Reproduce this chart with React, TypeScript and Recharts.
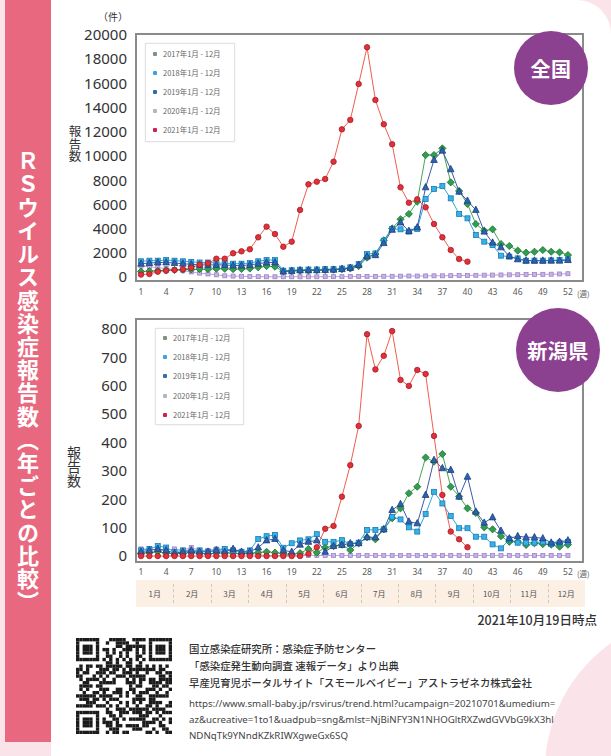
import React from 'react';
import { LineChart, Line, XAxis, YAxis, ReferenceArea } from 'recharts';

const WEEKS = [1, 2, 3, 4, 5, 6, 7, 8, 9, 10, 11, 12, 13, 14, 15, 16, 17, 18, 19, 20, 21, 22, 23, 24, 25, 26, 27, 28, 29, 30, 31, 32, 33, 34, 35, 36, 37, 38, 39, 40, 41, 42, 43, 44, 45, 46, 47, 48, 49, 50, 51, 52];
const WEEK_TICKS = [1, 4, 7, 10, 13, 16, 19, 22, 25, 28, 31, 34, 37, 40, 43, 46, 49, 52];
const NATIONAL_TICKS = [0, 2000, 4000, 6000, 8000, 10000, 12000, 14000, 16000, 18000, 20000];
const NIIGATA_TICKS = [0, 100, 200, 300, 400, 500, 600, 700, 800];
const YEAR_LABELS = ['2017年1月 - 12月', '2018年1月 - 12月', '2019年1月 - 12月', '2020年1月 - 12月', '2021年1月 - 12月'];
const MONTHS = ['1月', '2月', '3月', '4月', '5月', '6月', '7月', '8月', '9月', '10月', '11月', '12月'];

// 全国
const NAT_2017 = [450, 480, 520, 560, 580, 600, 620, 650, 650, 680, 680, 650, 660, 700, 800, 900, 850, 480, 500, 520, 540, 560, 580, 600, 650, 700, 900, 1600, 1900, 3030, 4020, 4770, 5210, 6230, 10080, 10080, 10630, 7820, 7110, 6030, 4380, 3830, 3940, 2730, 2560, 2180, 2010, 2090, 2230, 2090, 2040, 1820];
const NAT_2018 = [1300, 1350, 1350, 1400, 1350, 1300, 1250, 1200, 1200, 1150, 1150, 1100, 1100, 1150, 1300, 1400, 1400, 520, 560, 600, 620, 620, 650, 650, 700, 800, 1070, 1900, 1950, 3000, 3970, 3940, 3750, 3970, 6450, 7270, 7520, 6500, 5210, 4850, 3470, 2920, 2640, 1760, 1680, 1540, 1350, 1350, 1350, 1380, 1400, 1450];
const NAT_2019 = [1100, 1150, 1200, 1200, 1150, 1100, 1050, 1000, 1000, 1000, 1000, 950, 950, 1000, 1100, 1200, 1200, 450, 500, 550, 550, 560, 580, 600, 650, 750, 1000, 1700, 1800, 2800, 3900, 4500, 3800, 4100, 7410, 9670, 10440, 8900, 7050, 6300, 5540, 3750, 2840, 2450, 1740, 1460, 1350, 1350, 1350, 1350, 1350, 1400];
const NAT_2020 = [900, 850, 780, 700, 620, 520, 420, 320, 250, 180, 100, 80, 60, 40, 30, 20, 20, 20, 20, 20, 20, 20, 30, 30, 30, 40, 40, 50, 50, 60, 60, 70, 80, 80, 90, 100, 100, 110, 120, 130, 140, 150, 160, 170, 180, 190, 200, 210, 220, 230, 250, 270];
const NAT_2021 = [200, 250, 440, 520, 580, 640, 770, 1020, 1130, 1510, 1510, 1960, 2120, 2290, 3280, 4160, 3550, 2500, 2920, 5540, 7660, 7880, 8100, 9530, 12200, 12980, 15950, 18980, 14630, 12620, 10970, 7410, 6140, 6420, 5760, 4380, 3280, 2230, 1490, 1270];

// 新潟県
const NII_2017 = [10, 12, 15, 10, 8, 10, 12, 10, 8, 10, 12, 10, 8, 10, 12, 15, 12, 8, 6, 10, 25, 12, 30, 35, 40, 21, 45, 66, 59, 94, 133, 168, 221, 244, 347, 332, 359, 244, 210, 168, 152, 101, 94, 70, 50, 50, 39, 45, 42, 40, 33, 40];
const NII_2018 = [20, 25, 35, 30, 15, 20, 15, 20, 15, 20, 25, 20, 15, 20, 60, 70, 74, 29, 45, 55, 59, 77, 50, 50, 56, 42, 47, 92, 92, 94, 138, 129, 101, 86, 148, 226, 185, 141, 98, 98, 68, 68, 41, 27, 59, 47, 47, 47, 50, 42, 47, 50];
const NII_2019 = [15, 20, 25, 20, 10, 15, 20, 15, 15, 20, 15, 25, 15, 15, 30, 55, 60, 20, 15, 40, 50, 55, 15, 35, 39, 45, 45, 66, 66, 94, 162, 183, 121, 115, 215, 338, 309, 303, 209, 279, 156, 117, 136, 89, 62, 70, 66, 66, 62, 47, 50, 55];
const NII_2020 = [25, 25, 20, 20, 25, 20, 30, 20, 20, 25, 25, 20, 15, 10, 5, 2, 2, 2, 2, 2, 2, 2, 2, 2, 2, 2, 2, 2, 2, 2, 2, 2, 2, 2, 2, 2, 2, 2, 2, 2, 2, 2, 2, 2, 2, 2, 2, 2, 2, 2, 2, 2];
const NII_2021 = [0, 0, 0, 0, 0, 0, 0, 0, 0, 0, 0, 0, 0, 0, 0, 0, 0, 0, 0, 0, 8, 31, 96, 106, 209, 320, 458, 781, 657, 705, 792, 620, 599, 655, 641, 423, 215, 86, 59, 31];

type SeriesStyle = { key: string; line: string; fill: string; stroke: string; shape: string; size: number; legend: string };

const STYLES: SeriesStyle[] = [
  { key: 'y2017', line: '#45a656', fill: '#2f9f4e', stroke: '#1d6e36', shape: 'diamond', size: 5.5, legend: '#7d9384' },
  { key: 'y2018', line: '#2ea7de', fill: '#37b1e8', stroke: '#1a7cb2', shape: 'square', size: 5, legend: '#3aa3e0' },
  { key: 'y2019', line: '#3d5aa8', fill: '#2d62b0', stroke: '#1b3d7e', shape: 'triangle', size: 5.5, legend: '#2f6fa6' },
  { key: 'y2020', line: '#b9a2dc', fill: '#c8b3e6', stroke: '#9c82c8', shape: 'square', size: 4, legend: '#b4b4c2' },
  { key: 'y2021', line: '#ef5e4e', fill: '#e2303a', stroke: '#a51b27', shape: 'circle', size: 5.5, legend: '#d21f4e' },
];
const DRAW_ORDER = [STYLES[3], STYLES[0], STYLES[1], STYLES[2], STYLES[4]];

function buildRows(a17: number[], a18: number[], a19: number[], a20: number[], a21: number[]) {
  return WEEKS.map((w, i) => ({
    week: w,
    y2017: a17[i],
    y2018: a18[i],
    y2019: a19[i],
    y2020: a20[i],
    y2021: i < a21.length ? a21[i] : null,
  }));
}

const NATIONAL_ROWS = buildRows(NAT_2017, NAT_2018, NAT_2019, NAT_2020, NAT_2021);
const NIIGATA_ROWS = buildRows(NII_2017, NII_2018, NII_2019, NII_2020, NII_2021);

function renderMarker(p: any, s: SeriesStyle) {
  const key = `${s.key}-${p.index}`;
  const { cx, cy } = p;
  if (cx == null || cy == null || Number.isNaN(cy) || p.value == null) return <g key={key} />;
  const z = s.size;
  const common = { fill: s.fill, stroke: s.stroke, strokeWidth: 0.8 };
  if (s.shape === 'square') return <rect key={key} x={cx - z / 2} y={cy - z / 2} width={z} height={z} {...common} />;
  if (s.shape === 'diamond') {
    const h = z * 0.65;
    return <polygon key={key} points={`${cx},${cy - h} ${cx + h},${cy} ${cx},${cy + h} ${cx - h},${cy}`} {...common} />;
  }
  if (s.shape === 'triangle') {
    return <polygon key={key} points={`${cx},${cy - z * 0.7} ${cx + z * 0.6},${cy + z * 0.45} ${cx - z * 0.6},${cy + z * 0.45}`} {...common} />;
  }
  return <circle key={key} cx={cx} cy={cy} r={z / 2} {...common} />;
}

const JP = '"Noto Sans CJK JP", "Noto Sans", sans-serif';
const NUM = '"Noto Sans", "DejaVu Sans", sans-serif';

function WeeklyChart(props: { rows: any[]; top: number; height: number; marginTop: number; marginBottom: number; domain: [number, number]; ticks: number[]; tickMargin: number }) {
  const { rows, top, height, marginTop, marginBottom, domain, ticks, tickMargin } = props;
  return (
    <div style={{ position: 'absolute', left: 0, top, width: 611, height }}>
      <LineChart width={611} height={height} data={rows} margin={{ top: marginTop, right: 28, bottom: marginBottom, left: 66 }}>
        <XAxis
          type="number"
          dataKey="week"
          domain={[0.4, 53.8]}
          ticks={WEEK_TICKS}
          interval={0}
          allowDataOverflow
          axisLine={false}
          tickLine={false}
          tickSize={0}
          tickMargin={tickMargin}
          height={25}
          tick={{ fontSize: 8.5, fill: '#5a5a5a', fontFamily: NUM }}
        />
        <YAxis
          type="number"
          domain={domain}
          ticks={ticks}
          interval={0}
          allowDataOverflow
          axisLine={false}
          tickLine={false}
          tickSize={0}
          tickMargin={9}
          width={70}
          tick={{ fontSize: 15, fill: '#333', fontFamily: NUM }}
        />
        <ReferenceArea x1={0.4} x2={53.8} y1={domain[0]} y2={domain[1]} fill="#ffffff" fillOpacity={0} stroke="#8a8a8a" strokeWidth={2} ifOverflow="visible" />
        {DRAW_ORDER.map((s) => (
          <Line
            key={s.key}
            type="linear"
            dataKey={s.key}
            stroke={s.line}
            strokeWidth={1}
            dot={(p: any) => renderMarker(p, s)}
            activeDot={false}
            connectNulls={false}
            isAnimationActive={false}
          />
        ))}
      </LineChart>
    </div>
  );
}

function LegendBox(props: { left: number; top: number; width: number; height: number; firstRow: number; step: number }) {
  const { left, top, width, height, firstRow, step } = props;
  return (
    <div style={{ position: 'absolute', left, top, width, height, border: '1px solid #e2e2e2', background: 'rgba(255,255,255,0.9)', boxShadow: '0 0 2px rgba(0,0,0,0.08)' }}>
      {YEAR_LABELS.map((label, i) => (
        <div key={label} style={{ position: 'absolute', left: 0, top: firstRow + i * step - 5, height: 10, width, display: 'flex', alignItems: 'center' }}>
          <div style={{ marginLeft: 7, width: 4, height: 4, borderRadius: 1, background: STYLES[i].legend }} />
          <div style={{ marginLeft: 6, fontSize: 7.5, color: '#666', fontFamily: JP, whiteSpace: 'nowrap', lineHeight: '10px' }}>{label}</div>
        </div>
      ))}
    </div>
  );
}

function Badge(props: { cx: number; cy: number; r: number; text: string }) {
  const { cx, cy, r, text } = props;
  return (
    <div style={{ position: 'absolute', left: cx - r, top: cy - r, width: r * 2, height: r * 2, borderRadius: '50%', background: '#8c4190', color: '#fff', display: 'flex', alignItems: 'center', justifyContent: 'center', fontFamily: JP, fontWeight: 700, fontSize: 20, letterSpacing: 0.5 }}>
      {text}
    </div>
  );
}

const QR_SOURCE = 'https://www.small-baby.jp/rsvirus/trend.html?ucampaign=20210701&umedium=az&ucreative=1to1&uadpub=sng&mlst=NjBiNFY3N1NHOGltRXZwdGVVbG9kX3hlNDNqTk9YNndKZkRIWXgweGx6SQ';

function QrCode(props: { left: number; top: number; size: number }) {
  const n = 29;
  const m = props.size / n;
  const cells: React.ReactNode[] = [];
  const inFinder = (r: number, c: number) => (r < 8 && c < 8) || (r < 8 && c >= n - 8) || (r >= n - 8 && c < 8);
  const finderOn = (r: number, c: number) => {
    const rr = r >= n - 8 ? r - (n - 7) : r;
    const cc = c >= n - 8 ? c - (n - 7) : c;
    if (rr < 0 || cc < 0 || rr > 6 || cc > 6) return false;
    if (rr === 0 || rr === 6 || cc === 0 || cc === 6) return true;
    return rr >= 2 && rr <= 4 && cc >= 2 && cc <= 4;
  };
  for (let r = 0; r < n; r++) {
    for (let c = 0; c < n; c++) {
      let on: boolean;
      if (inFinder(r, c)) on = finderOn(r, c);
      else if (r === 6) on = c % 2 === 0;
      else if (c === 6) on = r % 2 === 0;
      else {
        const code = QR_SOURCE.charCodeAt((r * n + c * 3) % QR_SOURCE.length);
        on = ((code >> ((r * 2 + c) % 6)) & 1) === 1;
      }
      if (on) cells.push(<rect key={`${r}-${c}`} x={c * m} y={r * m} width={m + 0.05} height={m + 0.05} fill="#1a1a1a" />);
    }
  }
  return (
    <svg style={{ position: 'absolute', left: props.left, top: props.top }} width={props.size} height={props.size}>
      {cells}
    </svg>
  );
}

export default function App() {
  const monthW = 449 / 12;
  return (
    <div style={{ position: 'absolute', left: 0, top: 0, width: 611, height: 756, overflow: 'hidden', background: '#fbe4e9', fontFamily: JP }}>
      {/* white card */}
      <div style={{ position: 'absolute', left: 51, top: 0, width: 560, height: 756, background: '#ffffff', borderTopRightRadius: 34 }} />
      <div style={{ position: 'absolute', left: 545, top: 615, width: 310, height: 310, borderRadius: '50%', background: '#fbe4e9' }} />
      {/* left title strip */}
      <div style={{ position: 'absolute', left: 5, top: 0, width: 46, height: 742, background: '#e8697f' }}>
        <div style={{ position: 'absolute', left: 12, top: 150, writingMode: 'vertical-rl', fontSize: 22, fontWeight: 700, color: '#ffffff', letterSpacing: 1.2, lineHeight: 1, fontFamily: JP }}>
          ＲＳウイルス感染症報告数（年ごとの比較）
        </div>
      </div>

      {/* 全国 chart */}
      <div style={{ position: 'absolute', left: 98, top: 12, fontSize: 10, lineHeight: '10px', color: '#333' }}>（件）</div>
      <div style={{ position: 'absolute', left: 68, top: 125, writingMode: 'vertical-rl', fontSize: 12.5, lineHeight: 1, color: '#333' }}>報告数</div>
      <WeeklyChart rows={NATIONAL_ROWS} top={0} height={310} marginTop={34} marginBottom={4} domain={[-330, 20080]} ticks={NATIONAL_TICKS} tickMargin={8} />
      <LegendBox left={145} top={43} width={88} height={97} firstRow={9.7} step={19.1} />
      <div style={{ position: 'absolute', left: 577, top: 288, fontSize: 7.5, color: '#555' }}>(週)</div>
      <Badge cx={551} cy={68} r={37} text="全国" />

      {/* 新潟県 chart */}
      <div style={{ position: 'absolute', left: 67, top: 446, writingMode: 'vertical-rl', fontSize: 14, lineHeight: 1, color: '#333' }}>報告数</div>
      <WeeklyChart rows={NIIGATA_ROWS} top={300} height={290} marginTop={19} marginBottom={3} domain={[-21, 834.5]} ticks={NIIGATA_TICKS} tickMargin={7} />
      <LegendBox left={155} top={328} width={87} height={95} firstRow={8.7} step={19.3} />
      <div style={{ position: 'absolute', left: 577, top: 568, fontSize: 7.5, color: '#555' }}>(週)</div>
      <Badge cx={558} cy={350} r={42} text="新潟県" />

      {/* month band */}
      <div style={{ position: 'absolute', left: 136, top: 580, width: 449, height: 27, background: '#fcefe4' }}>
        {MONTHS.map((m, i) => (
          <div key={m} style={{ position: 'absolute', left: i * monthW, top: 0, width: monthW, height: 27, display: 'flex', alignItems: 'center', justifyContent: 'center', fontSize: 8, color: '#555' }}>{m}</div>
        ))}
        {MONTHS.slice(1).map((m, i) => (
          <div key={`sep-${m}`} style={{ position: 'absolute', left: (i + 1) * monthW, top: 4, height: 19, borderLeft: '1px dashed #cfc6bd' }} />
        ))}
      </div>

      {/* footer */}
      <div style={{ position: 'absolute', right: 14, top: 610, fontSize: 12.5, fontWeight: 500, color: '#333', whiteSpace: 'nowrap' }}>2021年10月19日時点</div>
      <QrCode left={76} top={638} size={96} />
      <div style={{ position: 'absolute', left: 189, top: 640, fontSize: 10.4, fontWeight: 500, color: '#333', lineHeight: '17px', whiteSpace: 'nowrap' }}>
        <div>国立感染症研究所：感染症予防センター</div>
        <div>「感染症発生動向調査 速報データ」より出典</div>
        <div>早産児育児ポータルサイト「スモールベイビー」アストラゼネカ株式会社</div>
      </div>
      <div style={{ position: 'absolute', left: 189, top: 696, fontSize: 9.7, color: '#444', lineHeight: '16px', whiteSpace: 'nowrap', fontFamily: NUM }}>
        <div>https://www.small-baby.jp/rsvirus/trend.html?ucampaign=20210701&amp;umedium=</div>
        <div>az&amp;ucreative=1to1&amp;uadpub=sng&amp;mlst=NjBiNFY3N1NHOGltRXZwdGVVbG9kX3hl</div>
        <div>NDNqTk9YNndKZkRIWXgweGx6SQ</div>
      </div>
    </div>
  );
}
